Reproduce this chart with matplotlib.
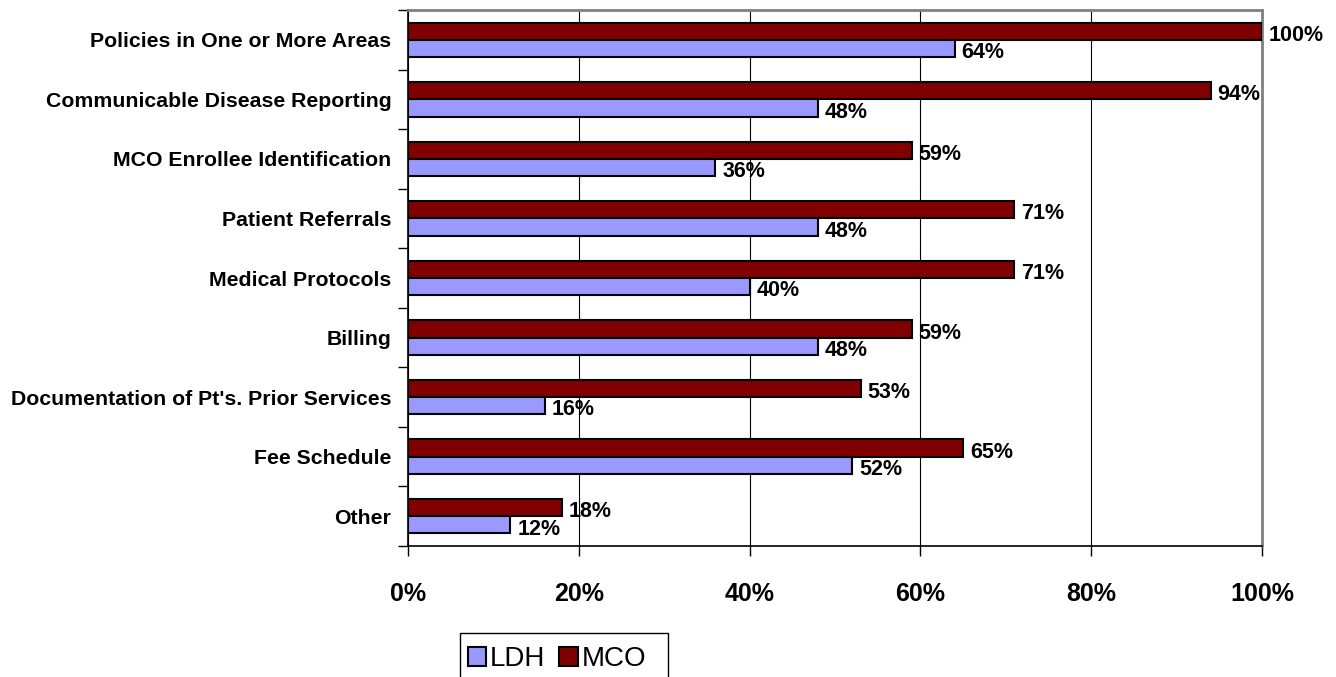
import matplotlib
matplotlib.use("Agg")
import matplotlib.pyplot as plt
import numpy as np
from matplotlib.patches import Rectangle
from matplotlib.ticker import FuncFormatter

plt.rcParams["font.family"] = ["Liberation Sans", "DejaVu Sans"]

# 调查项目（自上而下）
categories = [
    "Policies in One or More Areas",
    "Communicable Disease Reporting",
    "MCO Enrollee Identification",
    "Patient Referrals",
    "Medical Protocols",
    "Billing",
    "Documentation of Pt's. Prior Services",
    "Fee Schedule",
    "Other",
]
ldh = [64, 48, 36, 48, 40, 48, 16, 52, 12]
mco = [100, 94, 59, 71, 71, 59, 53, 65, 18]
x_ticks = [0, 20, 40, 60, 80, 100]

LDH_COLOR = "#9999FF"
MCO_COLOR = "#800000"

W, H = 1336, 677
fig = plt.figure(figsize=(W / 100, H / 100), dpi=100)
ax = fig.add_axes([408 / W, 1 - 546 / H, (1262 - 408) / W, (546 - 10) / H])

n = len(categories)
y = np.arange(n)
h = 0.29

ax.barh(y - h / 2, mco, height=h, color=MCO_COLOR, edgecolor="black",
        linewidth=1.5, label="MCO", zorder=3)
ax.barh(y + h / 2, ldh, height=h, color=LDH_COLOR, edgecolor="black",
        linewidth=1.5, label="LDH", zorder=3)

# 数值标签
for yi, v in zip(y, mco):
    ax.annotate(f"{v}%", (v, yi - h / 2), xytext=(5, -3),
                textcoords="offset points", va="center", ha="left",
                fontsize=15.5, fontweight="bold", annotation_clip=False)
for yi, v in zip(y, ldh):
    ax.annotate(f"{v}%", (v, yi + h / 2), xytext=(5, -3),
                textcoords="offset points", va="center", ha="left",
                fontsize=15.5, fontweight="bold", annotation_clip=False)

ax.set_xlim(0, 100)
ax.set_ylim(n - 0.5, -0.5)
ax.set_xticks(x_ticks)
ax.xaxis.set_major_formatter(FuncFormatter(lambda v, p: f"{v:.0f}%"))
ax.tick_params(axis="x", labelsize=18, length=7, width=1, direction="out",
               pad=19)
for lab in ax.get_xticklabels():
    lab.set_fontweight("bold")

# y 轴：刻度在类别之间，标签在中间
ax.set_yticks(np.arange(n + 1) - 0.5)
ax.set_yticklabels([])
ax.set_yticks(y, minor=True)
ax.set_yticklabels(categories, minor=True, fontsize=15.3, fontweight="bold")
ax.tick_params(axis="y", which="major", length=7, width=1, direction="out")
ax.tick_params(axis="y", which="minor", length=0, pad=12)

ax.grid(axis="x", color="black", linewidth=0.8, zorder=0)
for s in ("top", "right"):
    ax.spines[s].set_color("#808080")
    ax.spines[s].set_linewidth(2)
for s in ("left", "bottom"):
    ax.spines[s].set_color("black")
    ax.spines[s].set_linewidth(1.2)

# 图例：外框单独画，下沿超出画布
fig.patches.append(Rectangle((460 / W, 1 - 695 / H), 208 / W, 62 / H,
                             transform=fig.transFigure, facecolor="white",
                             edgecolor="black", linewidth=1))
handles, labels = ax.get_legend_handles_labels()
fig.legend(handles[::-1], labels[::-1], loc="center left",
           bbox_to_anchor=(468 / W, 1 - 659 / H), ncol=2,
           fontsize=20, frameon=False, handlelength=0.65, handleheight=0.65,
           handletextpad=0.15, columnspacing=0.5, borderpad=0,
           borderaxespad=0)

fig.savefig("out.png", dpi=100, facecolor="white")
